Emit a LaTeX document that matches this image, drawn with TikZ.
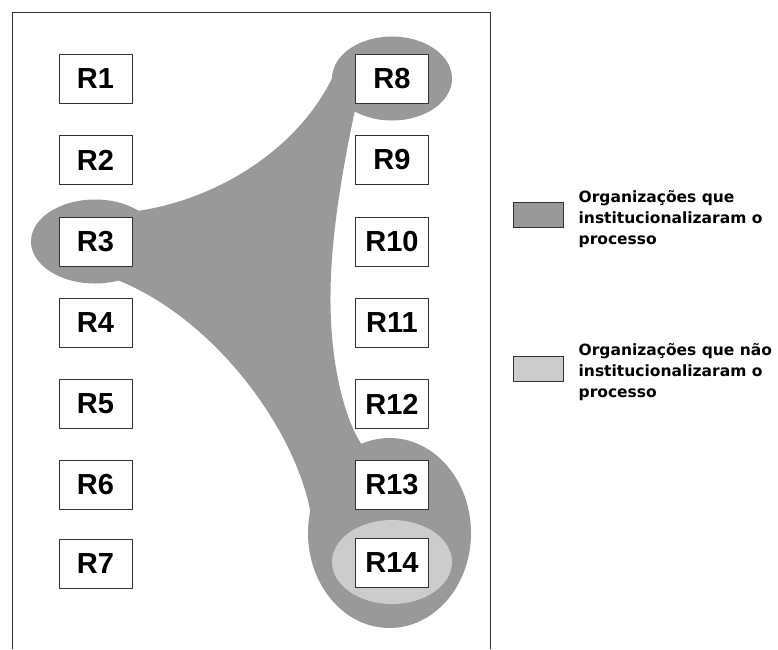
\documentclass[tikz,border=0pt]{standalone}
\usepackage{fontspec}
\setmainfont{Liberation Sans}
\newfontfamily\legfont{DejaVu Sans}
\usetikzlibrary{positioning}
\definecolor{blobgray}{HTML}{999999}
\definecolor{paleblob}{HTML}{CCCCCC}
\begin{document}
\begin{tikzpicture}[x=1pt,y=-1pt,
    regbox/.style={shape=rectangle,draw=black!80,line width=0.9pt,fill=white,minimum width=73pt,minimum height=49pt,inner sep=0pt,font=\fontsize{29}{30}\selectfont\bfseries},
    legbox/.style={shape=rectangle,draw=black!80,line width=0.9pt,minimum width=50pt,minimum height=25pt},
    legtext/.style={align=left,inner sep=0pt,font=\legfont\fontsize{15.5}{21}\selectfont\bfseries}]
    \useasboundingbox (0,0) rectangle (778,649);
%%%% Frame
    \draw[black!80,line width=0.9pt] (12,649) -- (12,12) -- (490,12) -- (490,649);
%%%% Gray region joining R3, R8 and R13
    \fill[blobgray] (137,211) .. controls (215,200) and (300,150) .. (335,72)
        -- (355,110) .. controls (338,190) and (328,260) .. (331,320)
        .. controls (333,370) and (345,420) .. (362,445)
        -- (312,522) .. controls (302,440) and (220,320) .. (115,279) -- cycle;
    \fill[blobgray] (95,241.5) ellipse [x radius=64pt, y radius=42pt];
    \fill[blobgray] (392,78.5) ellipse [x radius=60pt, y radius=42pt];
    \fill[blobgray] (389.5,533) ellipse [x radius=81.5pt, y radius=95pt];
    \fill[paleblob] (392,562) ellipse [x radius=60pt, y radius=42pt];
%%%% Add nodes for each region
    \node[regbox] (r1) at (95.5,78.5) {R1};
    \node[regbox] (r2) at (95.5,160) {R2};
    \node[regbox] (r3) at (95.5,241.5) {R3};
    \node[regbox] (r4) at (95.5,322.5) {R4};
    \node[regbox] (r5) at (95.5,403.5) {R5};
    \node[regbox] (r6) at (95.5,484.5) {R6};
    \node[regbox] (r7) at (95.5,564) {R7};
    \node[regbox] (r8) at (392,78.5) {R8};
    \node[regbox] (r9) at (392,160) {R9};
    \node[regbox] (r10) at (392,241.5) {R10};
    \node[regbox] (r11) at (392,322.5) {R11};
    \node[regbox] (r12) at (392,404) {R12};
    \node[regbox] (r13) at (392,485) {R13};
    \node[regbox] (r14) at (392,562.5) {R14};
%%%% Legend
    \node[legbox,fill=blobgray] (leg1) at (538,214.5) {};
    \node[legbox,fill=paleblob] (leg2) at (538,368.5) {};
    \node[legtext,right=15pt of leg1,yshift=-5pt] (txt1) {Organizações que\\institucionalizaram o\\processo};
    \node[legtext,right=15pt of leg2,yshift=-3.5pt] (txt2) {Organizações que não\\institucionalizaram o\\processo};
\end{tikzpicture}
\end{document}
